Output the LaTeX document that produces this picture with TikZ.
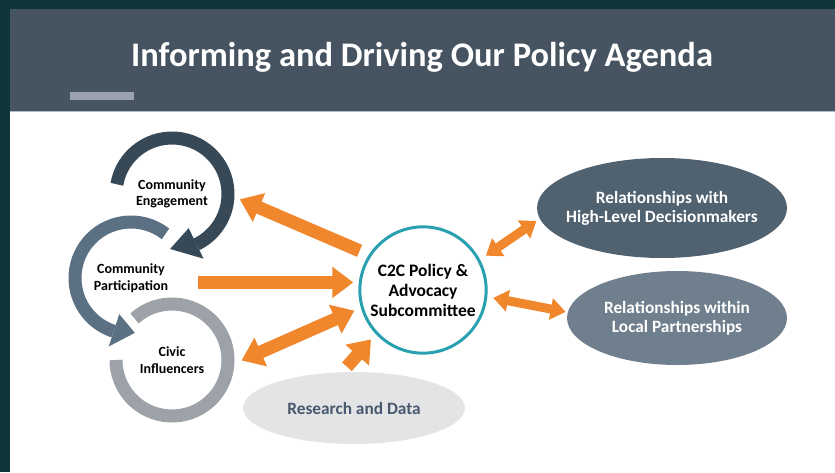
\documentclass[tikz,border=0pt]{standalone}
\usepackage{fontspec}
\setmainfont{Carlito}
\usetikzlibrary{shapes.geometric,arrows.meta,calc}
\definecolor{frame}{RGB}{14,53,55}
\definecolor{header}{RGB}{70,83,96}
\definecolor{headline}{RGB}{175,190,205}
\definecolor{headbar}{RGB}{155,164,174}
\definecolor{ringA}{RGB}{55,72,87}
\definecolor{ringB}{RGB}{91,113,131}
\definecolor{ringC}{RGB}{157,162,168}
\definecolor{orng}{RGB}{240,135,45}
\definecolor{tealc}{RGB}{40,160,175}
\definecolor{hldcol}{RGB}{80,97,112}
\definecolor{lpcol}{RGB}{112,127,141}
\definecolor{rdcol}{RGB}{227,228,230}
\definecolor{rdtext}{RGB}{72,88,110}
\tikzset{
  ring/.style={circle, minimum size=126pt, inner sep=0pt, align=center,
    font=\fontsize{14}{16.5}\selectfont\bfseries},
  oval/.style={ellipse, inner xsep=-30pt, inner ysep=0pt, align=center, text=white,
    font=\fontsize{17.3}{19}\selectfont\bfseries},
  fat/.style={draw=orng, line width=13pt, -{Triangle[width=30pt,length=21pt]}},
  fatboth/.style={fat, {Triangle[width=30pt,length=21pt]}-{Triangle[width=30pt,length=21pt]}},
  slim/.style={draw=orng, line width=9pt, {Triangle[width=21pt,length=15pt]}-{Triangle[width=21pt,length=15pt]}},
}
\begin{document}
\begin{tikzpicture}[x=1pt,y=1pt]
\useasboundingbox (0,0) rectangle (835,472);
\fill[frame] (0,0) rectangle (835,472);
\fill[white] (10,0) rectangle (835,463);
\fill[header] (10,360) rectangle (835,463);
\draw[headline, line width=1pt] (10,360.5) -- (835,360.5);
\fill[headbar] (70,372) rectangle (134,380);
\node[text=white, font=\fontsize{34.5}{39}\selectfont\bfseries] (title) at (422,415) {Informing and Driving Our Policy Agenda};
% the three rings
\node[ring] (ce) at (172,278) {Community\\Engagement};
\node[ring] (cp) at (131,194) {Community\\Participation};
\node[ring] (ci) at (172,112) {Civic\\Influencers};
\draw[ringC, line width=13pt] (ci.center) ++(132:56) arc[start angle=132, end angle=-180, radius=56];
\draw[ringB, line width=13pt] (cp.center) ++(52:56) arc[start angle=52, end angle=252, radius=56];
\fill[ringB] ($(cp.center)+(252:38)$) -- ($(cp.center)+(252:72)$) -- ($(cp.center)+(274:55)$) -- cycle;
\draw[ringA, line width=13pt] (ce.center) ++(170:56) arc[start angle=170, end angle=-64, radius=56];
\fill[ringA] ($(ce.center)+(-64:38)$) -- ($(ce.center)+(-64:72)$) -- ($(ce.center)+(-92:55)$) -- cycle;
% centre and ovals
\node[circle, draw=tealc, line width=3pt, minimum size=126pt, fill=white, align=center,
  font=\fontsize{17.5}{20}\selectfont\bfseries] (csc) at (423,182) {C2C Policy \&\\Advocacy\\Subcommittee};
\node[oval, fill=hldcol, minimum width=250pt, minimum height=100pt] (hld) at (662,264) {Relationships with\\High-Level Decisionmakers};
\node[oval, fill=lpcol, minimum width=220pt, minimum height=94pt] (lp) at (677,154) {Relationships within\\Local Partnerships};
\node[oval, fill=rdcol, text=rdtext, minimum width=222pt, minimum height=72pt] (rd) at (354,64) {Research and Data};
% orange arrows
\draw[fat, shorten <=10pt, shorten >=5pt] (csc.147) -- (ce.-3);
\draw[fat, shorten <=4pt, shorten >=5pt] (cp.-4) -- (cp.-4 -| csc.west);
\draw[fatboth, shorten <=7pt, shorten >=7pt] (ci.-3) -- (csc.196);
\draw[fat, shorten <=7pt, shorten >=7pt] (rd.108) -- (csc.223);
\draw[slim, shorten <=7pt, shorten >=4pt] (csc.28) -- (hld.185);
\draw[slim, shorten <=6pt, shorten >=2pt] (csc.-6) -- (lp.177);
\end{tikzpicture}
\end{document}
